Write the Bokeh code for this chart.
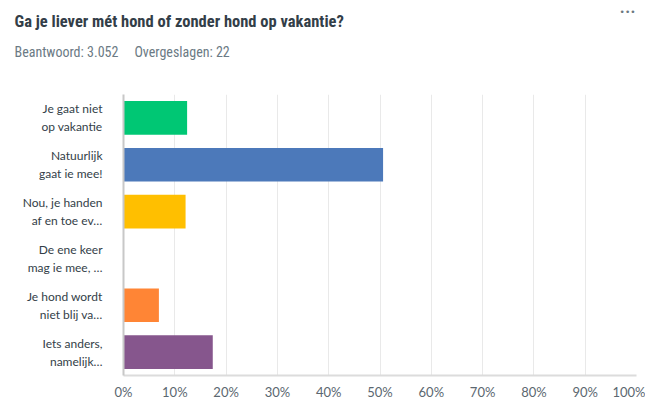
from bokeh.plotting import figure
from bokeh.models import FactorRange, Title, FixedTicker, Range1d
from bokeh.embed import file_html
from bokeh.resources import INLINE

categories = [
    "Je gaat niet\nop vakantie",
    "Natuurlijk\ngaat ie mee!",
    "Nou, je handen\naf en toe ev\u2026",
    "De ene keer\nmag ie mee, \u2026",
    "Je hond wordt\nniet blij va\u2026",
    "Iets anders,\nnamelijk\u2026",
]
percentages = [12.4, 50.6, 12.1, 0.0, 6.9, 17.4]
bar_colors = ["#00C774", "#4C79BA", "#FFBF00", "#6BC8CD", "#FF8535", "#86568D"]
tick_values = [0, 10, 20, 30, 40, 50, 60, 70, 80, 90, 100]
tick_labels = ["0%", "10%", "20%", "30%", "40%", "50%", "60%", "70%", "80%", "90%", "100%"]
title_text = "Ga je liever m\u00e9t hond of zonder hond op vakantie?"
subtitle_text = "Beantwoord: 3.052\u00a0\u00a0\u00a0\u00a0\u00a0Overgeslagen: 22"
menu_text = "\u2022\u2022\u2022"

p = figure(
    width=645, height=410,
    y_range=FactorRange(factors=list(reversed(categories)), range_padding=0),
    x_range=Range1d(0, 100),
    output_backend="svg", toolbar_location=None,
    min_border_left=123, min_border_right=9, min_border_bottom=35, min_border_top=10,
)

p.hbar(y=categories, left=0, right=percentages, height=0.72, color=bar_colors, line_color=None)

p.outline_line_color = None
p.ygrid.visible = False
p.xgrid.grid_line_color = "#e9e9e9"
p.xgrid.grid_line_width = 1
p.xaxis.ticker = FixedTicker(ticks=tick_values)
p.xaxis.major_label_overrides = {v: l for v, l in zip(tick_values, tick_labels)}
p.xaxis.axis_line_color = "#dcdcdc"
p.xaxis.axis_line_width = 2
p.xaxis.major_tick_line_color = None
p.xaxis.minor_tick_line_color = None
p.xaxis.major_label_text_font = "Lato"
p.xaxis.major_label_text_font_size = "13px"
p.xaxis.major_label_text_color = "#5b6770"
p.xaxis.major_label_standoff = 2

p.yaxis.axis_line_color = "#c8c8c8"
p.yaxis.axis_line_width = 2
p.yaxis.major_tick_line_color = None
p.yaxis.minor_tick_line_color = None
p.yaxis.major_label_text_font = "Lato"
p.yaxis.major_label_text_font_size = "12px"
p.yaxis.major_label_text_color = "#333e48"
p.yaxis.major_label_text_align = "right"
p.yaxis.major_label_standoff = 15

bottom_spacer = Title(text=" ", align="left", text_font_size="1px", standoff=10)
p.add_layout(bottom_spacer, "above")
sub = Title(text=subtitle_text, align="left", offset=-109, text_font="Roboto Condensed",
            text_font_size="14px", text_font_style="normal", text_color="#6b7a84", standoff=43)
p.add_layout(sub, "above")
ttl = Title(text=title_text, align="left", offset=-109, text_font="Roboto Condensed",
            text_font_size="16.5px", text_font_style="bold", text_color="#333e48", standoff=-20.6)
p.add_layout(ttl, "above")
menu = Title(text=menu_text, align="right", offset=1, text_font="DejaVu Sans",
             text_font_size="9px", text_font_style="normal", text_color="#6b787f", standoff=8)
p.add_layout(menu, "above")

open("out.html", "w").write(file_html(p, INLINE))
